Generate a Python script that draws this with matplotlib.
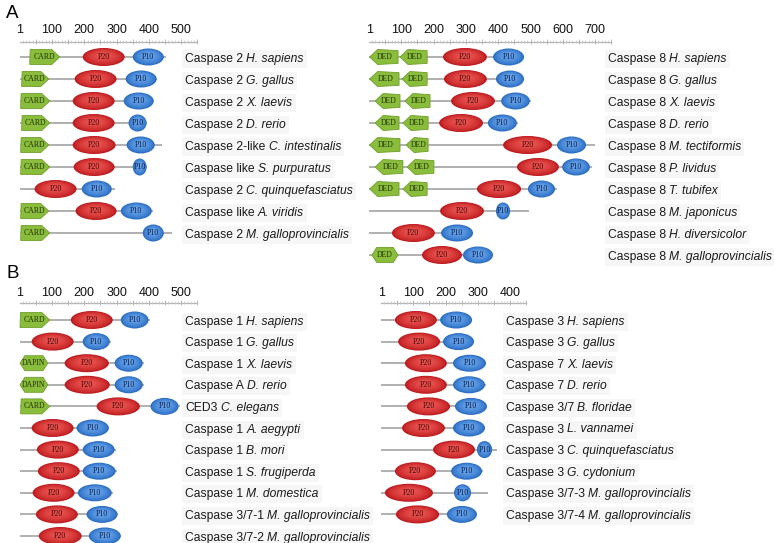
import matplotlib
matplotlib.use("Agg")
import matplotlib.pyplot as plt
import numpy as np
from matplotlib.patches import Ellipse, Polygon, Rectangle
from matplotlib.colors import to_rgb
from matplotlib.transforms import offset_copy, IdentityTransform

plt.rcParams["font.family"] = ["Liberation Sans", "DejaVu Sans"]

# ---------------- Panel A, left: caspase-2 like proteins ----------------
a_left_names = ["Caspase 2", "Caspase 2", "Caspase 2", "Caspase 2", "Caspase 2-like",
                "Caspase like", "Caspase 2", "Caspase like", "Caspase 2"]
a_left_species = ["H. sapiens", "G. gallus", "X. laevis", "D. rerio", "C. intestinalis",
                  "S. purpuratus", "C. quinquefasciatus", "A. viridis", "M. galloprovincialis"]
a_left_length = [452, 425, 416, 395, 440, 395, 294, 412, 470]
a_left_card = [(31, 124), (6, 90), (3, 93), (6, 93), (3, 90), (3, 93), None, (3, 90), (3, 93)]
a_left_p20 = [(195, 325), (170, 300), (164, 294), (164, 294), (164, 297), (167, 294),
              (46, 176), (173, 300), None]
a_left_p10 = [(350, 446), (328, 424), (322, 415), (337, 393), (331, 418), (350, 393),
              (192, 285), (313, 409), (381, 446)]

# ---------------- Panel A, right: caspase-8 like proteins ----------------
a_right_names = ["Caspase 8"] * 10
a_right_species = ["H. sapiens", "G. gallus", "X. laevis", "D. rerio", "M. tectiformis",
                   "P. lividus", "T. tubifex", "M. japonicus", "H. diversicolor",
                   "M. galloprovincialis"]
a_right_length = [480, 480, 500, 460, 700, 690, 582, 495, 322, 384]
a_right_ded1 = [(2, 90), (2, 93), (19, 96), (19, 93), (2, 96), (19, 105), (2, 93),
                None, None, (9, 90)]
a_right_ded2 = [(96, 180), (102, 180), (111, 189), (105, 183), (115, 183), (118, 201),
                (105, 180), None, None, None]
a_right_p20 = [(229, 365), (232, 365), (254, 390), (217, 353), (415, 567), (458, 588),
               (334, 471), (220, 356), (71, 204), (164, 288)]
a_right_p10 = [(384, 480), (393, 480), (409, 498), (368, 458), (582, 672), (598, 684),
               (492, 576), (393, 437), (223, 322), (291, 384)]

# ---------------- Panel B, left: caspase-1 like proteins ----------------
b_left_names = ["Caspase 1", "Caspase 1", "Caspase 1", "Caspase A", "CED3", "Caspase 1",
                "Caspase 1", "Caspase 1", "Caspase 1", "Caspase 3/7-1", "Caspase 3/7-2"]
b_left_species = ["H. sapiens", "G. gallus", "X. laevis", "D. rerio", "C. elegans",
                  "A. aegypti", "B. mori", "S. frugiperda", "M. domestica",
                  "M. galloprovincialis", "M. galloprovincialis"]
b_left_length = [404, 282, 385, 385, 497, 278, 297, 300, 288, 305, 315]
b_left_card = [(1, 93), None, None, None, (3, 93), None, None, None, None, None, None]
b_left_dapin = [None, None, (1, 87), (1, 87), None, None, None, None, None, None, None]
b_left_p20 = [(158, 288), (37, 167), (139, 276), (139, 279), (238, 372), (37, 167),
              (53, 183), (56, 186), (40, 170), (50, 180), (59, 192)]
b_left_p10 = [(313, 399), (195, 279), (294, 381), (294, 381), (405, 492), (176, 276),
              (195, 294), (195, 297), (180, 285), (207, 303), (214, 313)]

# ---------------- Panel B, right: caspase-3/7 like proteins ----------------
b_right_names = ["Caspase 3", "Caspase 3", "Caspase 7", "Caspase 7", "Caspase 3/7",
                 "Caspase 3", "Caspase 3", "Caspase 3", "Caspase 3/7-3", "Caspase 3/7-4"]
b_right_species = ["H. sapiens", "G. gallus", "X. laevis", "D. rerio", "B. floridae",
                   "L. vannamei", "C. quinquefasciatus", "G. cydonium",
                   "M. galloprovincialis", "M. galloprovincialis"]
b_right_length = [282, 288, 325, 325, 328, 322, 359, 316, 331, 297]
b_right_p20 = [(43, 173), (53, 183), (74, 204), (74, 204), (80, 214), (65, 198),
               (161, 291), (43, 170), (12, 161), (46, 180)]
b_right_p10 = [(183, 282), (192, 288), (223, 325), (223, 322), (229, 328), (223, 322),
               (297, 344), (217, 313), (226, 279), (204, 297)]

ruler_ticks_550 = [1, 100, 200, 300, 400, 500]
ruler_ticks_750 = [1, 100, 200, 300, 400, 500, 600, 700]
ruler_ticks_450 = [1, 100, 200, 300, 400]

# ---------------- drawing helpers ----------------
W, H = 774, 543
SCALE = 0.323  # pixels per residue
fig = plt.figure(figsize=(W / 100, H / 100), dpi=100)
fig.patch.set_facecolor("white")
renderer = fig.canvas.get_renderer()

RED = ("#be1c20", "#e9504c")
BLUE = ("#2a6cc2", "#63a2ea")
GREEN_FACE, GREEN_EDGE = "#8bbd3c", "#6f9e2a"
BACKBONE = "#a3a3a3"
LABEL_SIZE = 8.7


def mix(c1, c2, t):
    a, b = np.array(to_rgb(c1)), np.array(to_rgb(c2))
    return tuple(a + (b - a) * t)


def make_axes(origin_px, first_row_px, row_px, left, right, top, bottom):
    ax = fig.add_axes([left / W, 1 - bottom / H, (right - left) / W, (bottom - top) / H])
    ax.set_xlim((left - origin_px) / SCALE, (right - origin_px) / SCALE)
    ax.set_ylim((bottom - first_row_px) / row_px, (top - first_row_px) / row_px)
    ax.axis("off")
    ax.row_px = row_px
    return ax


def shaded_ellipse(ax, span, y, h_px, colors, text, text_color):
    x0, x1 = span
    h = h_px / ax.row_px
    dark, light = colors
    n = 9
    for i in range(n):
        f = 1 - 0.8 * i / n
        t = (i / (n - 1)) ** 0.7
        ax.add_patch(Ellipse(((x0 + x1) / 2, y - (1 - f) * h * 0.12), (x1 - x0) * f, h * f,
                             color=mix(dark, light, t), lw=0, zorder=3 + i * 0.01))
    ax.text((x0 + x1) / 2, y, text, ha="center", va="center", fontsize=5.8,
            family="Liberation Serif", color=text_color, zorder=5)


def green_domain(ax, span, y, text, kind):
    x0, x1 = span
    h = 15 / ax.row_px / 2
    tip = 8 / SCALE
    if kind == "right":
        pts = [(x0 + 1.5, y - h), (x1 - tip, y - h), (x1, y), (x1 - tip, y + h), (x0, y + h)]
    elif kind == "left":
        pts = [(x0, y), (x0 + tip, y - h), (x1, y - h * 0.85), (x1, y + h * 0.85), (x0 + tip, y + h)]
    else:
        t2 = tip * 0.6
        pts = [(x0, y), (x0 + t2, y - h), (x1 - t2, y - h), (x1, y), (x1 - t2, y + h), (x0 + t2, y + h)]
    ax.add_patch(Polygon(pts, closed=True, facecolor=GREEN_FACE, edgecolor=GREEN_EDGE,
                         lw=0.6, zorder=3))
    ax.text((x0 + x1) / 2 + (tip * 0.15 if kind == "left" else -tip * 0.1), y, text,
            ha="center", va="center", fontsize=5.6, family="Liberation Serif",
            color="#1e3008", zorder=5)


def ruler(ax, ruler_row, label_row, end, ticks):
    ax.plot([1, end], [ruler_row, ruler_row], color="#b5b5b5", lw=0.9, zorder=2)
    minor = np.arange(10, end + 1, 10)
    ax.vlines(minor, ruler_row - 2.2 / ax.row_px, ruler_row + 1.0 / ax.row_px,
              color="#c2c2c2", lw=0.5)
    major = np.arange(50, end + 1, 50)
    ax.vlines(major, ruler_row - 3.5 / ax.row_px, ruler_row + 1.5 / ax.row_px,
              color="#b0b0b0", lw=0.6)
    for t in ticks:
        ax.text(t, label_row, str(t), ha="center", va="center", fontsize=9, color="#111111")


def label(ax, x, y, name, species):
    t1 = ax.text(x, y, name, ha="left", va="center_baseline", fontsize=LABEL_SIZE,
                 color="#1a1a1a", zorder=5)
    bb1 = t1.get_window_extent(renderer)
    space = 3.2
    t2 = ax.text(x, y, species, ha="left", va="center_baseline", fontsize=LABEL_SIZE,
                 style="italic", color="#1a1a1a", zorder=5,
                 transform=offset_copy(ax.transData, fig=fig, x=bb1.width + space, y=0,
                                       units="dots"))
    bb2 = t2.get_window_extent(renderer)
    x0, x1 = bb1.x0 - 3, bb2.x1 + 3
    yc = (bb1.y0 + bb1.y1) / 2
    ax.add_patch(Rectangle((x0, yc - 9), x1 - x0, 18, transform=IdentityTransform(),
                           facecolor="#f6f6f6", edgecolor="none", zorder=0.5))


def draw_rows(ax, label_x, names, species, lengths, p20, p10, nterm):
    for i in range(len(names)):
        ax.plot([1, lengths[i]], [i, i], color=BACKBONE, lw=1.2, zorder=1,
                solid_capstyle="butt")
        for span, text, kind in nterm[i]:
            green_domain(ax, span, i, text, kind)
        if p20[i] is not None:
            shaded_ellipse(ax, p20[i], i, 18, RED, "P20", "#3d0808")
        if p10[i] is not None:
            shaded_ellipse(ax, p10[i], i, 17, BLUE, "P10", "#0c1c45")
        label(ax, label_x, i, names[i], species[i])


# ---------------- panel A ----------------
ax = make_axes(19.7, 57, 22, 0, 360, 20, 270)
ruler(ax, (42 - 57) / 22, (30 - 57) / 22, 550, ruler_ticks_550)
nterm = [[(c, "CARD", "right")] if c else [] for c in a_left_card]
draw_rows(ax, 512, a_left_names, a_left_species, a_left_length, a_left_p20, a_left_p10, nterm)

ax = make_axes(369, 57, 22, 360, 774, 20, 270)
ruler(ax, (42 - 57) / 22, (30 - 57) / 22, 750, ruler_ticks_750)
nterm = []
for d1, d2 in zip(a_right_ded1, a_right_ded2):
    row = []
    if d1 is not None:
        row.append((d1, "DED", "left" if d2 is not None else "hex"))
    if d2 is not None:
        row.append((d2, "DED", "left"))
    nterm.append(row)
draw_rows(ax, 739, a_right_names, a_right_species, a_right_length, a_right_p20,
          a_right_p10, nterm)

# ---------------- panel B ----------------
ax = make_axes(19.7, 320, 21.6, 0, 380, 282, 543)
ruler(ax, (303 - 320) / 21.6, (293 - 320) / 21.6, 550, ruler_ticks_550)
nterm = []
for c, d in zip(b_left_card, b_left_dapin):
    row = []
    if c is not None:
        row.append((c, "CARD", "right"))
    if d is not None:
        row.append((d, "DAPIN", "hex"))
    nterm.append(row)
draw_rows(ax, 512, b_left_names, b_left_species, b_left_length, b_left_p20, b_left_p10, nterm)

ax = make_axes(381, 320, 21.6, 380, 774, 282, 543)
ruler(ax, (303 - 320) / 21.6, (293 - 320) / 21.6, 450, ruler_ticks_450)
nterm = [[] for _ in b_right_names]
draw_rows(ax, 387, b_right_names, b_right_species, b_right_length, b_right_p20,
          b_right_p10, nterm)

fig.text(6 / W, 1 - 13.5 / H, "A", fontsize=13.5, ha="left", va="center")
fig.text(6 / W, 1 - 273 / H, "B", fontsize=13.5, ha="left", va="center")

fig.savefig("out.png", dpi=100, facecolor="white")
